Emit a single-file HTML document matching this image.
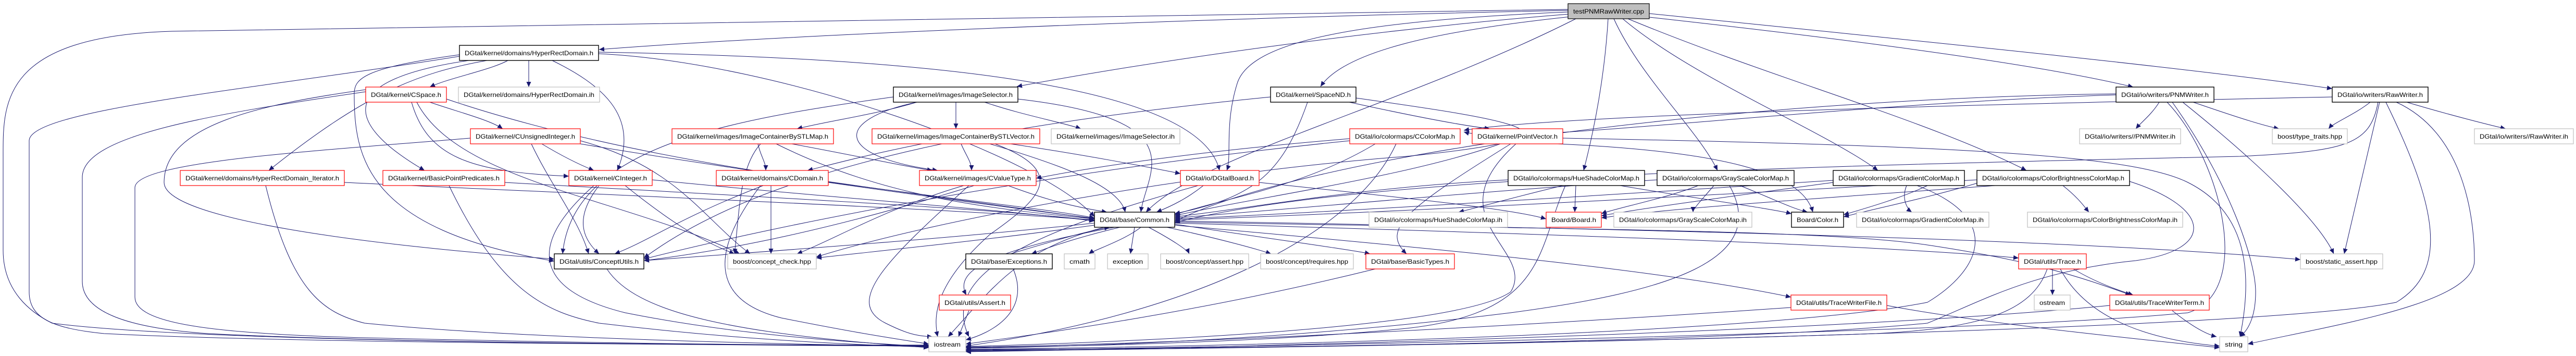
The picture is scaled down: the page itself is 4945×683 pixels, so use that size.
<!DOCTYPE html>
<html><head><meta charset="utf-8"><style>
html,body{margin:0;padding:0;background:#fff;}
svg{display:block;}
text{font-family:"Liberation Sans",sans-serif;font-size:12px;fill:#000;}
.e{fill:none;stroke:#191970;stroke-width:1;}
.b rect{fill:#fff;stroke:#000;stroke-width:1.4;}
.r rect{fill:#fff;stroke:#ff0000;stroke-width:1.2;}
.g rect{fill:#fff;stroke:#bfbfbf;stroke-width:1.2;}
</style></head><body>
<svg width="4945" height="683" viewBox="0 0 4945 683" xmlns="http://www.w3.org/2000/svg">
<defs><marker id="a" markerUnits="userSpaceOnUse" markerWidth="11" markerHeight="9" refX="10" refY="4.5" orient="auto"><path d="M0,0 L10,4.5 L0,9 z" fill="#191970"/></marker></defs>
<g class="e" marker-end="url(#a)">
<!-- from testPNM -->
<path d="M3010 20 C2500 30,1600 60,1150 95"/>
<path d="M3012 27 C2600 60,2200 120,1952 166"/>
<path d="M3015 32 C2750 60,2580 100,2535 166"/>
<path d="M3025 36 C2700 200,2300 300,2200 407"/>
<path d="M3087 36 C3080 150,3060 250,3040 327"/>
<path d="M3098 36 C3150 150,3260 250,3297 327"/>
<path d="M3115 36 C3250 150,3500 250,3605 327"/>
<path d="M3125 36 C3400 150,3700 230,3890 327"/>
<path d="M3166 33 C3500 70,3900 120,4095 167"/>
<path d="M3166 26 C3700 80,4200 130,4477 170"/>
<path d="M3010 18 C1500 50,600 50,330 60 C0 70,6 200,6 300 L6 480 C6 560,60 600,100 620 C400 660,1500 662,1783 664"/>
<path d="M3010 23 C2600 40,2400 80,2375 160 C2350 240,2365 300,2355 327"/>
<!-- HyperRectDomain -->
<path d="M975 116 C940 135,860 150,825 167"/>
<path d="M1015 116 L1015 167"/>
<path d="M1060 116 C1150 160,1230 220,1185 327"/>
<path d="M935 116 C800 140,700 180,516 327"/>
<path d="M900 116 C600 160,700 260,815 327"/>
<path d="M1149 103 C1500 120,2000 300,2101 416"/>
<path d="M1149 100 C1700 110,2300 150,2341 327"/>
<path d="M882 108 C500 170,56 210,56 270 L56 560 C56 610,100 630,200 640 C600 660,1500 662,1783 662"/>
<path d="M882 105 C700 130,680 150,680 180 C680 300,700 440,1064 501"/>
<!-- CSpace -->
<path d="M825 196 C880 215,940 230,965 247"/>
<path d="M790 196 C820 300,900 330,1092 338"/>
<path d="M857 190 C1300 340,1900 380,2101 418"/>
<path d="M702 172 C500 200,315 240,315 350 C315 420,700 470,1064 497"/>
<path d="M702 176 C400 220,158 260,158 340 L158 540 C158 600,250 630,400 640 C800 660,1500 662,1783 662"/>
<path d="M800 196 C880 350,1200 380,1420 487"/>
<!-- CUnsignedInteger -->
<path d="M1020 276 C1060 360,1110 420,1130 487"/>
<path d="M1040 276 C1080 300,1110 315,1140 327"/>
<path d="M1114 276 C1500 340,1900 390,2101 420"/>
<path d="M1114 270 C1300 320,1350 420,1440 487"/>
<path d="M903 265 C600 290,259 310,259 360 L259 570 C259 620,400 640,700 648 C1200 660,1500 662,1783 663"/>
<!-- HRD_Iterator -->
<path d="M510 356 C560 560,620 600,700 620 C1000 650,1500 660,1783 665"/>
<path d="M661 350 C1300 380,1800 400,2101 422"/>
<!-- BasicPointPredicates -->
<path d="M862 356 C960 560,1050 600,1150 620 C1400 650,1600 660,1783 666"/>
<path d="M969 350 C1500 380,1900 400,2101 423"/>
<!-- CInteger -->
<path d="M1150 356 C1100 420,1120 460,1150 487"/>
<path d="M1200 356 C1280 420,1340 460,1410 487"/>
<path d="M1252 345 C1600 380,1900 400,2101 424"/>
<path d="M1140 356 C1000 480,1040 560,1200 600 C1400 640,1600 655,1783 665"/>
<!-- ConceptUtils -->
<path d="M1165 516 C1220 600,1400 640,1783 667"/>
<!-- ImageSelector -->
<path d="M1760 196 C1680 220,1600 230,1530 247"/>
<path d="M1835 196 L1835 247"/>
<path d="M1890 196 C1960 220,2040 235,2075 247"/>
<path d="M1760 196 C1600 230,1600 300,1800 327"/>
<path d="M1954 190 C2300 230,2200 330,2190 407"/>
<path d="M1715 186 C1400 230,1100 280,1080 487"/>
<!-- STLMap -->
<path d="M1455 276 C1460 300,1470 310,1470 327"/>
<path d="M1520 276 C1650 300,1740 320,1790 327"/>
<path d="M1490 276 C1700 380,1900 400,2101 420"/>
<path d="M1460 276 C1420 320,1420 400,1410 487"/>
<!-- STLVector -->
<path d="M1770 276 C1650 300,1580 320,1550 327"/>
<path d="M1845 276 C1855 300,1865 310,1865 327"/>
<path d="M1900 276 C2050 320,2150 360,2160 407"/>
<path d="M1940 276 C2100 300,2200 320,2266 333"/>
<path d="M1910 276 C2050 330,2000 380,1900 450 C1800 540,1790 600,1800 646"/>
<!-- CDomain -->
<path d="M1480 356 L1480 487"/>
<path d="M1465 356 C1300 420,1250 460,1180 487"/>
<path d="M1460 356 C1350 500,1380 580,1500 610 C1650 640,1720 650,1783 660"/>
<path d="M1590 350 C1800 380,1950 400,2101 419"/>
<!-- CValueType -->
<path d="M1850 356 C1700 400,1600 460,1530 487"/>
<path d="M1935 356 C2000 380,2050 395,2125 407"/>
<path d="M1860 356 C1700 500,1620 580,1700 620 C1740 640,1760 645,1790 646"/>
<path d="M1870 356 C1600 440,1400 480,1236 500"/>
<!-- DGtalBoard -->
<path d="M2310 356 C2280 380,2250 395,2220 407"/>
<path d="M2417 350 C2700 380,2900 400,2968 420"/>
<path d="M2300 356 C2000 440,1800 520,1860 646"/>
<!-- Common -->
<path d="M2101 428 C1800 460,1500 480,1236 500"/>
<path d="M2101 432 C1900 460,1700 480,1567 495"/>
<path d="M2150 436 C2050 460,2000 480,1980 487"/>
<path d="M2190 436 C2160 460,2100 480,2090 487"/>
<path d="M2178 436 L2170 487"/>
<path d="M2205 436 C2250 460,2280 480,2283 487"/>
<path d="M2240 436 C2350 460,2420 480,2440 487"/>
<path d="M2255 430 C2450 460,2600 480,2630 487"/>
<path d="M2255 428 C3000 450,3600 470,3875 495"/>
<path d="M2255 432 C2800 480,3200 520,3438 570"/>
<path d="M2255 426 C3000 440,3500 440,3700 470 C3900 500,3990 530,4090 566"/>
<path d="M2255 424 C3200 440,4000 460,4416 498"/>
<path d="M2140 436 C1900 480,1830 520,1855 566"/>
<path d="M2120 436 C1950 480,1900 560,1820 646"/>
<path d="M1940 487 C2030 460,2080 445,2130 436"/>
<!-- Exceptions / Assert / BasicTypes -->
<path d="M1945 516 C1980 600,1900 640,1854 652"/>
<path d="M1860 596 L1840 646"/>
<path d="M2640 516 C2300 600,2000 640,1854 660"/>
<!-- SpaceND -->
<path d="M2590 196 C2700 220,2800 240,2860 247"/>
<path d="M2510 196 C2460 340,2400 380,2255 410"/>
<path d="M2603 188 C2900 230,3100 260,2700 300 C2300 330,1800 420,1567 493"/>
<path d="M2439 186 C2000 230,1500 300,1236 495"/>
<!-- CColorMap -->
<path d="M2640 276 C2500 360,2350 380,2255 412"/>
<path d="M2591 266 C2300 290,2100 320,1989 342"/>
<path d="M2591 270 C2000 330,1500 430,1236 497"/>
<path d="M2680 276 C2600 450,2300 600,1854 664"/>
<!-- PointVector -->
<path d="M2880 276 C2700 340,2400 380,2255 414"/>
<path d="M2900 276 C2700 400,2650 440,2700 487"/>
<path d="M2990 276 C3300 290,3460 330,3480 407"/>
<path d="M2910 276 C2750 420,2950 480,2900 560 C2800 630,2200 655,1854 665"/>
<path d="M3000 265 C3800 280,4100 300,4200 350 C4300 400,4330 500,4300 646"/>
<!-- HueShade -->
<path d="M3000 356 C2900 380,2830 400,2800 407"/>
<path d="M3025 356 L3023 407"/>
<path d="M3110 356 C3250 380,3400 400,3439 410"/>
<path d="M2895 345 C2600 360,2400 400,2255 416"/>
<path d="M3005 356 C2950 480,2970 600,2700 630 C2400 660,2000 665,1854 667"/>
<!-- GrayScale -->
<path d="M3260 356 C3200 380,3100 400,3074 410"/>
<path d="M3290 356 C3270 380,3250 400,3250 407"/>
<path d="M3340 356 C3400 380,3440 400,3470 407"/>
<path d="M3181 345 C2800 370,2500 400,2255 418"/>
<path d="M3320 356 C3400 500,3200 560,2900 600 C2500 650,2100 665,1854 668"/>
<!-- Gradient -->
<path d="M3660 356 C3650 380,3660 400,3670 407"/>
<path d="M3519 350 C3300 380,3150 400,3074 414"/>
<path d="M3700 356 C3650 380,3580 400,3539 412"/>
<path d="M3519 346 C3000 380,2500 410,2255 420"/>
<path d="M3680 356 C3850 420,3800 520,3700 580 C3400 640,2400 665,1854 670"/>
<!-- ColorBrightness -->
<path d="M3960 356 C3990 380,4000 395,4010 407"/>
<path d="M3830 356 C3500 380,3200 400,3074 418"/>
<path d="M3800 350 C3700 380,3600 400,3539 416"/>
<path d="M3795 345 C3200 380,2600 410,2255 422"/>
<path d="M4088 348 C4250 400,4250 480,4100 500 C3900 520,3800 580,3700 620 C3300 660,2300 668,1854 671"/>
<!-- PNMWriter -->
<path d="M4145 196 C4130 220,4110 235,4100 247"/>
<path d="M4210 196 C4280 220,4340 240,4375 247"/>
<path d="M4190 196 C4320 300,4450 420,4480 487"/>
<path d="M4170 196 C4280 350,4330 500,4330 560 C4330 600,4320 630,4300 646"/>
<path d="M4062 182 C3500 200,2900 280,2810 253"/>
<path d="M4062 180 C3300 190,2500 300,2255 425"/>
<path d="M4160 196 C4260 300,4330 560,4200 600 C3800 640,2300 668,1854 672"/>
<!-- RawWriter -->
<path d="M4550 196 C4520 220,4480 235,4470 247"/>
<path d="M4620 196 C4700 220,4780 240,4810 247"/>
<path d="M4568 196 L4500 487"/>
<path d="M4600 196 C4740 260,4750 440,4750 500 C4750 580,4500 620,4315 660"/>
<path d="M4580 196 C4680 400,4700 520,4600 580 C4300 640,2500 668,1854 673"/>
<path d="M4477 186 C3800 200,3000 220,2810 250"/>
<path d="M4565 196 C4550 280,4500 290,4300 300 C3400 320,2600 340,2255 427"/>
<!-- Trace -->
<path d="M3940 516 L3940 566"/>
<path d="M3980 516 C4020 540,4060 555,4095 566"/>
<path d="M3955 516 C4000 600,4100 650,4261 664"/>
<path d="M3930 516 C3900 600,3800 630,3600 640 C3000 660,2200 670,1854 674"/>
<!-- TraceWriterFile -->
<path d="M3438 590 C3000 620,2300 660,1854 666"/>
<path d="M3622 586 C3800 620,4100 650,4261 667"/>
<!-- TraceWriterTerm -->
<path d="M4170 596 C4200 620,4230 640,4255 646"/>
<path d="M4050 586 C3500 640,2300 668,1854 675"/>
</g>
<!-- nodes -->
<g class="g"><rect x="3010" y="7" width="156" height="29" style="fill:#bfbfbf;stroke:#000"/><text x="3020" y="26" textLength="136" lengthAdjust="spacingAndGlyphs">testPNMRawWriter.cpp</text></g>
<g class="b"><rect x="882" y="87" width="267" height="29"/><text x="892" y="106" textLength="247" lengthAdjust="spacingAndGlyphs">DGtal/kernel/domains/HyperRectDomain.h</text></g>
<g class="r"><rect x="702" y="167" width="155" height="29"/><text x="712" y="186" textLength="135" lengthAdjust="spacingAndGlyphs">DGtal/kernel/CSpace.h</text></g>
<g class="g"><rect x="880" y="167" width="271" height="29"/><text x="890" y="186" textLength="251" lengthAdjust="spacingAndGlyphs">DGtal/kernel/domains/HyperRectDomain.ih</text></g>
<g class="b"><rect x="1715" y="167" width="239" height="29"/><text x="1725" y="186" textLength="219" lengthAdjust="spacingAndGlyphs">DGtal/kernel/images/ImageSelector.h</text></g>
<g class="b"><rect x="2439" y="167" width="164" height="29"/><text x="2449" y="186" textLength="144" lengthAdjust="spacingAndGlyphs">DGtal/kernel/SpaceND.h</text></g>
<g class="b"><rect x="4062" y="167" width="188" height="29"/><text x="4072" y="186" textLength="168" lengthAdjust="spacingAndGlyphs">DGtal/io/writers/PNMWriter.h</text></g>
<g class="b"><rect x="4477" y="167" width="184" height="29"/><text x="4487" y="186" textLength="164" lengthAdjust="spacingAndGlyphs">DGtal/io/writers/RawWriter.h</text></g>
<g class="r"><rect x="903" y="247" width="211" height="29"/><text x="913" y="266" textLength="191" lengthAdjust="spacingAndGlyphs">DGtal/kernel/CUnsignedInteger.h</text></g>
<g class="r"><rect x="1290" y="247" width="310" height="29"/><text x="1300" y="266" textLength="290" lengthAdjust="spacingAndGlyphs">DGtal/kernel/images/ImageContainerBySTLMap.h</text></g>
<g class="r"><rect x="1674" y="247" width="322" height="29"/><text x="1684" y="266" textLength="302" lengthAdjust="spacingAndGlyphs">DGtal/kernel/images/ImageContainerBySTLVector.h</text></g>
<g class="g"><rect x="2018" y="247" width="247" height="29"/><text x="2028" y="266" textLength="227" lengthAdjust="spacingAndGlyphs">DGtal/kernel/images//ImageSelector.ih</text></g>
<g class="r"><rect x="2591" y="247" width="212" height="29"/><text x="2601" y="266" textLength="192" lengthAdjust="spacingAndGlyphs">DGtal/io/colormaps/CColorMap.h</text></g>
<g class="r"><rect x="2826" y="247" width="174" height="29"/><text x="2836" y="266" textLength="154" lengthAdjust="spacingAndGlyphs">DGtal/kernel/PointVector.h</text></g>
<g class="g"><rect x="3992" y="247" width="194" height="29"/><text x="4002" y="266" textLength="174" lengthAdjust="spacingAndGlyphs">DGtal/io/writers//PNMWriter.ih</text></g>
<g class="g"><rect x="4362" y="247" width="144" height="29"/><text x="4372" y="266" textLength="124" lengthAdjust="spacingAndGlyphs">boost/type_traits.hpp</text></g>
<g class="g"><rect x="4750" y="247" width="190" height="29"/><text x="4760" y="266" textLength="170" lengthAdjust="spacingAndGlyphs">DGtal/io/writers//RawWriter.ih</text></g>
<g class="r"><rect x="346" y="327" width="315" height="29"/><text x="356" y="346" textLength="295" lengthAdjust="spacingAndGlyphs">DGtal/kernel/domains/HyperRectDomain_Iterator.h</text></g>
<g class="r"><rect x="735" y="327" width="234" height="29"/><text x="745" y="346" textLength="214" lengthAdjust="spacingAndGlyphs">DGtal/kernel/BasicPointPredicates.h</text></g>
<g class="r"><rect x="1092" y="327" width="160" height="29"/><text x="1102" y="346" textLength="140" lengthAdjust="spacingAndGlyphs">DGtal/kernel/CInteger.h</text></g>
<g class="r"><rect x="1375" y="327" width="215" height="29"/><text x="1385" y="346" textLength="195" lengthAdjust="spacingAndGlyphs">DGtal/kernel/domains/CDomain.h</text></g>
<g class="r"><rect x="1765" y="327" width="224" height="29"/><text x="1775" y="346" textLength="204" lengthAdjust="spacingAndGlyphs">DGtal/kernel/images/CValueType.h</text></g>
<g class="r"><rect x="2266" y="327" width="151" height="29"/><text x="2276" y="346" textLength="131" lengthAdjust="spacingAndGlyphs">DGtal/io/DGtalBoard.h</text></g>
<g class="b"><rect x="2895" y="327" width="262" height="29"/><text x="2905" y="346" textLength="242" lengthAdjust="spacingAndGlyphs">DGtal/io/colormaps/HueShadeColorMap.h</text></g>
<g class="b"><rect x="3181" y="327" width="263" height="29"/><text x="3191" y="346" textLength="243" lengthAdjust="spacingAndGlyphs">DGtal/io/colormaps/GrayScaleColorMap.h</text></g>
<g class="b"><rect x="3519" y="327" width="252" height="29"/><text x="3529" y="346" textLength="232" lengthAdjust="spacingAndGlyphs">DGtal/io/colormaps/GradientColorMap.h</text></g>
<g class="b"><rect x="3795" y="327" width="293" height="29"/><text x="3805" y="346" textLength="273" lengthAdjust="spacingAndGlyphs">DGtal/io/colormaps/ColorBrightnessColorMap.h</text></g>
<g class="b"><rect x="2101" y="407" width="154" height="29"/><text x="2111" y="426" textLength="134" lengthAdjust="spacingAndGlyphs">DGtal/base/Common.h</text></g>
<g class="g"><rect x="2628" y="407" width="266" height="29"/><text x="2638" y="426" textLength="246" lengthAdjust="spacingAndGlyphs">DGtal/io/colormaps/HueShadeColorMap.ih</text></g>
<g class="r"><rect x="2968" y="407" width="106" height="29"/><text x="2978" y="426" textLength="86" lengthAdjust="spacingAndGlyphs">Board/Board.h</text></g>
<g class="g"><rect x="3098" y="407" width="265" height="29"/><text x="3108" y="426" textLength="245" lengthAdjust="spacingAndGlyphs">DGtal/io/colormaps/GrayScaleColorMap.ih</text></g>
<g class="b"><rect x="3439" y="407" width="100" height="29"/><text x="3449" y="426" textLength="80" lengthAdjust="spacingAndGlyphs">Board/Color.h</text></g>
<g class="g"><rect x="3564" y="407" width="254" height="29"/><text x="3574" y="426" textLength="234" lengthAdjust="spacingAndGlyphs">DGtal/io/colormaps/GradientColorMap.ih</text></g>
<g class="g"><rect x="3892" y="407" width="298" height="29"/><text x="3902" y="426" textLength="278" lengthAdjust="spacingAndGlyphs">DGtal/io/colormaps/ColorBrightnessColorMap.ih</text></g>
<g class="b"><rect x="1064" y="487" width="172" height="29"/><text x="1074" y="506" textLength="152" lengthAdjust="spacingAndGlyphs">DGtal/utils/ConceptUtils.h</text></g>
<g class="g"><rect x="1397" y="487" width="170" height="29"/><text x="1407" y="506" textLength="150" lengthAdjust="spacingAndGlyphs">boost/concept_check.hpp</text></g>
<g class="b"><rect x="1854" y="487" width="166" height="29"/><text x="1864" y="506" textLength="146" lengthAdjust="spacingAndGlyphs">DGtal/base/Exceptions.h</text></g>
<g class="g"><rect x="2043" y="487" width="59" height="29"/><text x="2053" y="506" textLength="39" lengthAdjust="spacingAndGlyphs">cmath</text></g>
<g class="g"><rect x="2126" y="487" width="78" height="29"/><text x="2136" y="506" textLength="58" lengthAdjust="spacingAndGlyphs">exception</text></g>
<g class="g"><rect x="2228" y="487" width="169" height="29"/><text x="2238" y="506" textLength="149" lengthAdjust="spacingAndGlyphs">boost/concept/assert.hpp</text></g>
<g class="g"><rect x="2420" y="487" width="178" height="29"/><text x="2430" y="506" textLength="158" lengthAdjust="spacingAndGlyphs">boost/concept/requires.hpp</text></g>
<g class="r"><rect x="2622" y="487" width="170" height="29"/><text x="2632" y="506" textLength="150" lengthAdjust="spacingAndGlyphs">DGtal/base/BasicTypes.h</text></g>
<g class="r"><rect x="3875" y="487" width="130" height="29"/><text x="3885" y="506" textLength="110" lengthAdjust="spacingAndGlyphs">DGtal/utils/Trace.h</text></g>
<g class="g"><rect x="4416" y="487" width="158" height="29"/><text x="4426" y="506" textLength="138" lengthAdjust="spacingAndGlyphs">boost/static_assert.hpp</text></g>
<g class="r"><rect x="1803" y="566" width="137" height="29"/><text x="1813" y="585" textLength="117" lengthAdjust="spacingAndGlyphs">DGtal/utils/Assert.h</text></g>
<g class="r"><rect x="3438" y="566" width="184" height="29"/><text x="3448" y="585" textLength="164" lengthAdjust="spacingAndGlyphs">DGtal/utils/TraceWriterFile.h</text></g>
<g class="g"><rect x="3905" y="566" width="69" height="29"/><text x="3915" y="585" textLength="49" lengthAdjust="spacingAndGlyphs">ostream</text></g>
<g class="r"><rect x="4050" y="566" width="191" height="29"/><text x="4060" y="585" textLength="171" lengthAdjust="spacingAndGlyphs">DGtal/utils/TraceWriterTerm.h</text></g>
<g class="g"><rect x="1783" y="646" width="71" height="29"/><text x="1793" y="665" textLength="51" lengthAdjust="spacingAndGlyphs">iostream</text></g>
<g class="g"><rect x="4261" y="646" width="54" height="29"/><text x="4271" y="665" textLength="34" lengthAdjust="spacingAndGlyphs">string</text></g>
</svg>
</body></html>
